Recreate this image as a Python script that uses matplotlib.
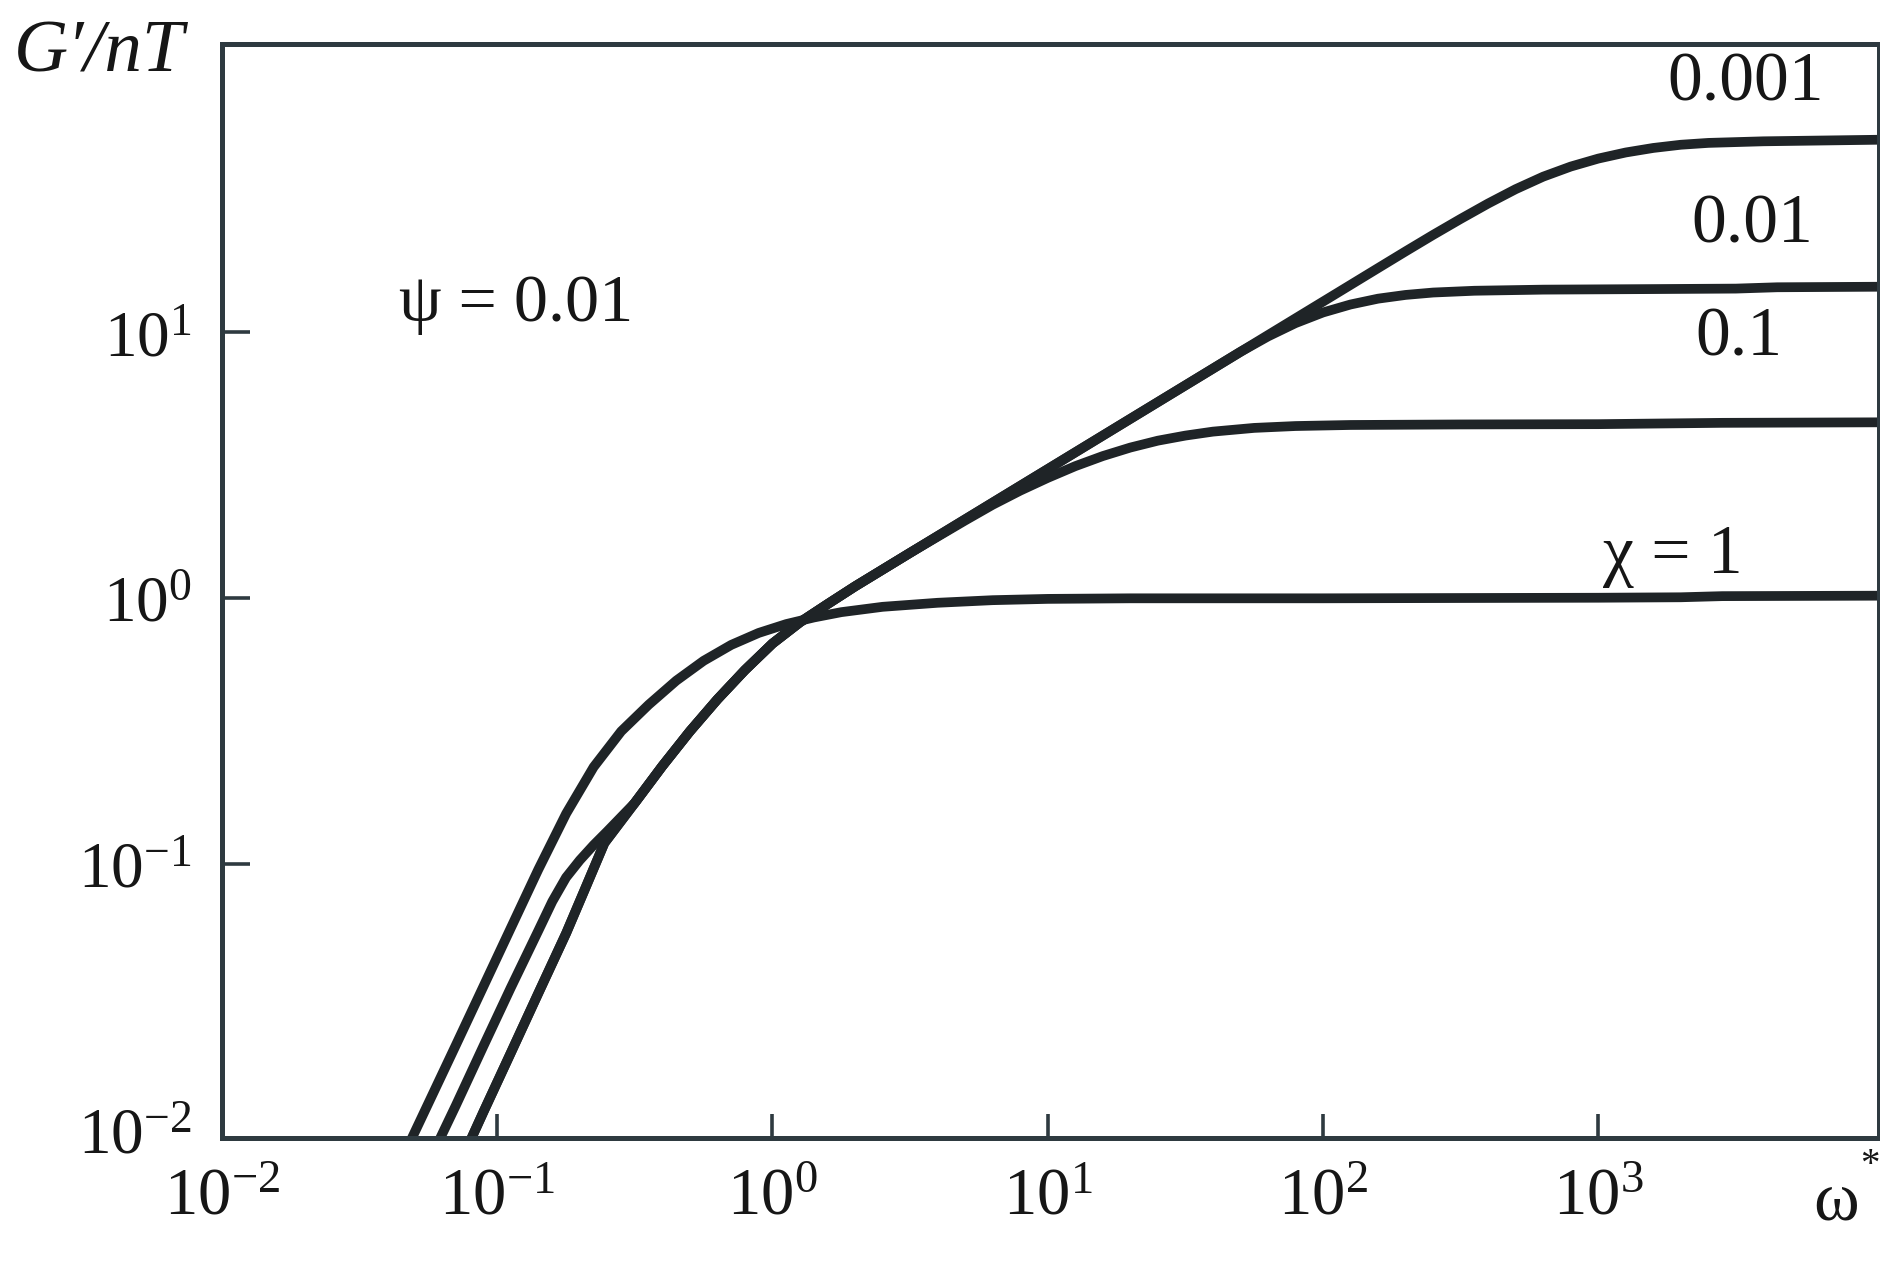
import matplotlib
matplotlib.use("Agg")
import matplotlib.pyplot as plt

plt.rcParams['font.family'] = ['Liberation Serif', 'DejaVu Serif']
plt.rcParams['mathtext.fontset'] = 'custom'
plt.rcParams['mathtext.rm'] = 'Liberation Serif'
plt.rcParams['mathtext.it'] = 'Liberation Serif:italic'

# ---- data (omega*, G'/nT), psi = 0.01 ----
omega_chi1 = [0.0465, 0.0562, 0.0708, 0.0891, 0.112, 0.141, 0.178, 0.224, 0.282, 0.355,
              0.447, 0.562, 0.708, 0.891, 1.122, 1.413, 1.778, 2.512, 3.981, 6.31,
              10.0, 19.95, 100, 1000, 1995, 2818, 10715]
g_chi1 = [0.00832, 0.0126, 0.0209, 0.0347, 0.0575, 0.0955, 0.155, 0.232, 0.316, 0.398,
          0.490, 0.582, 0.668, 0.741, 0.800, 0.847, 0.887, 0.929, 0.962, 0.984,
          0.995, 1.0, 1.0, 1.005, 1.009, 1.019, 1.023]

omega_chi01 = [0.0589, 0.0708, 0.0891, 0.112, 0.141, 0.1585, 0.1778, 0.1995, 0.2239, 0.2512,
               0.316, 0.398, 0.501, 0.631, 0.794, 1.0, 1.259, 1.585, 1.995, 3.162,
               5.012, 6.31, 7.943, 10.0, 12.59, 15.85, 19.95, 25.12, 31.62, 39.81,
               56.23, 79.43, 125.9, 316, 1000, 2818, 10715]
g_chi01 = [0.00832, 0.0124, 0.0207, 0.0343, 0.0562, 0.0724, 0.0891, 0.1035, 0.118, 0.133,
           0.170, 0.234, 0.316, 0.417, 0.537, 0.676, 0.813, 0.951, 1.109, 1.483,
           1.963, 2.249, 2.541, 2.838, 3.141, 3.428, 3.690, 3.917, 4.093, 4.236,
           4.375, 4.446, 4.487, 4.508, 4.519, 4.571, 4.592]

omega_chi001 = [0.0767, 0.0891, 0.112, 0.141, 0.178, 0.209, 0.245,
                0.316, 0.398, 0.501, 0.631, 0.794, 1.0, 1.259, 1.585, 1.995, 3.162,
                5.012, 10.0, 19.95, 31.62, 50.12, 63.1, 79.43, 100, 125.9, 158.5,
                199.5, 251.2, 354.8, 631, 1585, 3162, 4467, 10715]
g_chi001 = [0.00832, 0.0117, 0.0195, 0.0327, 0.0550, 0.0813, 0.120,
            0.170, 0.234, 0.316, 0.417, 0.537, 0.676, 0.813, 0.951, 1.109, 1.483,
            1.982, 3.062, 4.732, 6.324, 8.453, 9.66, 10.84, 11.89, 12.74, 13.40,
            13.84, 14.13, 14.35, 14.49, 14.56, 14.62, 14.79, 14.86]

omega_chi0001 = [0.0767, 0.0891, 0.112, 0.141, 0.178, 0.209, 0.245,
                 0.316, 0.398, 0.501, 0.631, 0.794, 1.0, 1.259, 1.585, 1.995, 3.162,
                 5.012, 10.0, 19.95, 31.62, 50.12, 100, 125.9, 158.5, 199.5, 251.2,
                 316.2, 398.1, 501.2, 631, 794.3, 1000, 1259, 1585, 1995, 2512,
                 3981, 10715]
g_chi0001 = [0.00832, 0.0117, 0.0195, 0.0327, 0.0550, 0.0813, 0.120,
             0.170, 0.234, 0.316, 0.417, 0.537, 0.676, 0.813, 0.951, 1.109, 1.483,
             1.982, 3.062, 4.732, 6.324, 8.453, 13.06, 15.10, 17.46, 20.18, 23.28,
             26.73, 30.55, 34.59, 38.55, 42.07, 45.08, 47.53, 49.43, 50.82, 51.64,
             52.36, 53.09]

curve_labels = ["χ = 1", "0.1", "0.01", "0.001"]
curve_label_pos = [(1862, 1.44), (3236, 9.44), (3614, 25.1), (3436, 86.5)]
psi_label = "ψ = 0.01"
psi_label_pos = (0.1175, 12.76)
x_ticks = [1e-2, 1e-1, 1e0, 1e1, 1e2, 1e3]
x_tick_labels = [r'$10^{-2}$', r'$10^{-1}$', r'$10^{0}$', r'$10^{1}$', r'$10^{2}$', r'$10^{3}$']
y_ticks = [1e-2, 1e-1, 1e0, 1e1]
y_tick_labels = [r'$10^{-2}$', r'$10^{-1}$', r'$10^{0}$', r'$10^{1}$']

W, H = 1881, 1273
fig = plt.figure(figsize=(W / 100, H / 100), dpi=100)
fig.patch.set_facecolor('white')
ax = fig.add_axes([222 / W, (H - 1138) / H, (1879 - 222) / W, (1138 - 44) / H])

line_color = '#1f2427'
for om, g in [(omega_chi1, g_chi1), (omega_chi01, g_chi01),
              (omega_chi001, g_chi001), (omega_chi0001, g_chi0001)]:
    ax.plot(om, g, color=line_color, lw=7.0, solid_capstyle='butt', solid_joinstyle='round')

ax.set_xscale('log')
ax.set_yscale('log')
ax.set_xlim(1e-2, 10 ** 4.02)
ax.set_ylim(10 ** -2.03, 10 ** 2.085)

spine_color = '#2e3a40'
for s in ax.spines.values():
    s.set_color(spine_color)
    s.set_linewidth(3.6)

ax.set_xticks(x_ticks)
ax.set_xticklabels(x_tick_labels)
ax.set_yticks(y_ticks)
ax.set_yticklabels(y_tick_labels)
ax.minorticks_off()
text_color = '#161616'
ax.tick_params(axis='x', direction='in', length=17, width=2.6, color=spine_color,
               labelsize=48, pad=21, labelcolor=text_color)
ax.tick_params(axis='y', direction='in', length=20, width=2.6, color=spine_color,
               labelsize=47, pad=22, labelcolor=text_color)
ax.yaxis.get_major_ticks()[0].tick1line.set_visible(False)
ax.xaxis.get_major_ticks()[0].tick1line.set_visible(False)

ax.text(psi_label_pos[0], psi_label_pos[1], psi_label, fontsize=49, color=text_color,
        ha='center', va='center')
for lab, (xx, yy) in zip(curve_labels, curve_label_pos):
    ax.text(xx, yy, lab, fontsize=50, color=text_color, ha='center', va='center')

fig.text(99 / W, 1 - 54 / H, "G′/nT", fontsize=54, style='italic', color=text_color,
         ha='center', va='center')
fig.text(1836 / W, 1 - 1203 / H, "ω", fontsize=50, color=text_color, ha='center', va='center')
fig.text(1870 / W, 1 - 1166 / H, "*", fontsize=28, color=text_color, ha='center', va='center')

fig.savefig("out.png", dpi=100, facecolor='white')
